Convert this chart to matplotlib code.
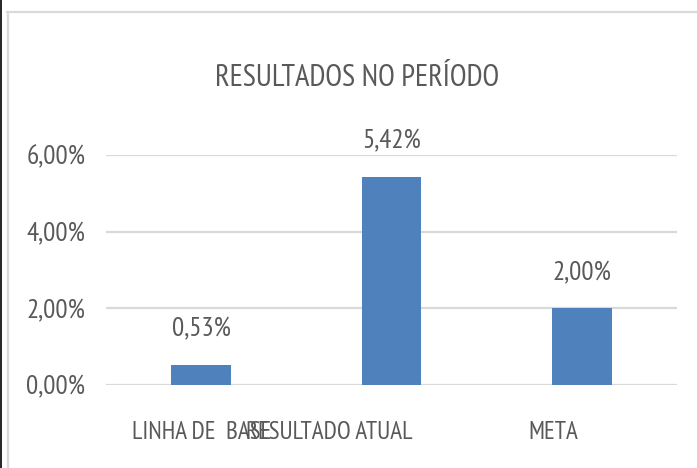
import matplotlib
matplotlib.use("Agg")
import matplotlib.pyplot as plt
import matplotlib.transforms as mtrans
from matplotlib.lines import Line2D

categories = ["LINHA DE  BASE", "RESULTADO ATUAL", "META"]
values = [0.53, 5.42, 2.00]
value_labels = ["0,53%", "5,42%", "2,00%"]
yticks = [0, 2, 4, 6]
ytick_labels = ["0,00%", "2,00%", "4,00%", "6,00%"]
title = "RESULTADOS NO PERÍODO"

plt.rcParams["font.family"] = ["PT Sans Narrow", "DejaVu Sans"]
TXT = "#595959"

W, H = 697, 468
fig = plt.figure(figsize=(W / 100, H / 100), dpi=100)
ax = fig.add_axes([106 / W, 83 / H, 571 / W, 230 / H])

x = list(range(len(categories)))
ax.bar(x, values, width=0.315, color="#4f81bd", zorder=3)
ax.set_xlim(-0.5, 2.5)
ax.set_ylim(0, 6)
ax.set_yticks(yticks)
ax.set_yticklabels(ytick_labels, fontsize=19.5, color=TXT)
ax.set_xticks(x)
ax.set_xticklabels(categories, fontsize=18, color=TXT)
ax.tick_params(axis="both", length=0)
ax.tick_params(axis="y", pad=15)
ax.tick_params(axis="x", pad=26)
ax.grid(axis="y", color="#d9d9d9", linewidth=1.6, zorder=0)
for s in ax.spines.values():
    s.set_visible(False)

# category labels sit off-centre in the reference
offsets_px = [0, -62, -29]
for lab, dx in zip(ax.get_xticklabels(), offsets_px):
    lab.set_transform(lab.get_transform() + mtrans.ScaledTranslation(dx / 100, 0, fig.dpi_scale_trans))

for xi, v, t in zip(x, values, value_labels):
    ax.annotate(t, (xi, v), xytext=(0, 20.5), textcoords="offset points", ha="center", va="baseline",
                fontsize=19.5, color=TXT)

fig.text(357 / W, 1 - 86 / H, title, ha="center", va="baseline", fontsize=22, color=TXT)

# chart frame lines
fig.add_artist(Line2D([7.5 / W, 7.5 / W], [0, 1 - 12 / H], color="#d9d9d9", linewidth=1.6, transform=fig.transFigure))
fig.add_artist(Line2D([7 / W, 1], [1 - 12 / H, 1 - 12 / H], color="#d9d9d9", linewidth=1.6, transform=fig.transFigure))
fig.add_artist(Line2D([0.7 / W, 0.7 / W], [0, 1], color="black", linewidth=1.2, transform=fig.transFigure))

fig.savefig("out.png", dpi=100)
